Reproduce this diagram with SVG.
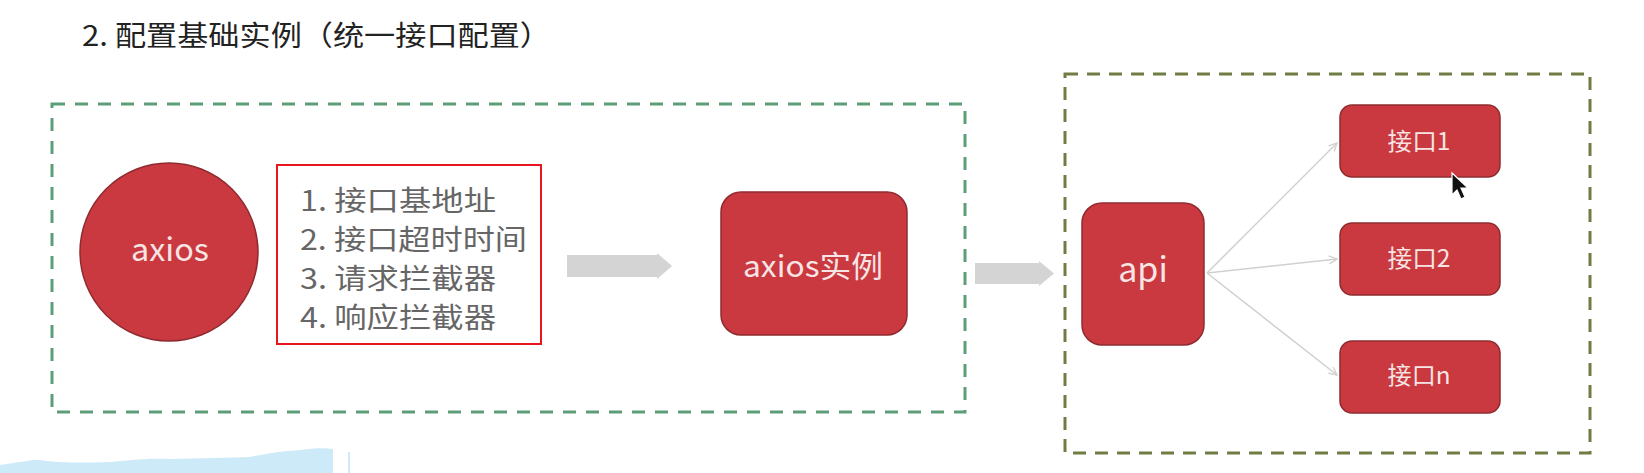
<svg xmlns="http://www.w3.org/2000/svg" width="1644" height="473" viewBox="0 0 1644 473">
<defs>
<style>
.t{font-family:"Noto Sans CJK SC","Noto Sans",sans-serif}
.node{fill:#c9393f;stroke:#8f2b30;stroke-width:1.5}
.nt{fill:#f7e4e4;text-anchor:middle}
.list{fill:#666;font-size:28px}
.fat{fill:#d4d4d4}
.thin{stroke:#d0d0d0;stroke-width:1.5;fill:none;marker-end:url(#chev)}
</style>
<marker id="chev" viewBox="0 0 10 10" refX="9" refY="5" markerWidth="10" markerHeight="10" markerUnits="userSpaceOnUse" orient="auto">
<path d="M1,1 L9,5 L1,9" fill="none" stroke="#d0d0d0" stroke-width="1.3"/>
</marker>
</defs>
<rect width="1644" height="473" fill="#ffffff"/>
<text class="t" x="82" y="46" font-size="28" fill="#222" textLength="469" lengthAdjust="spacingAndGlyphs">2. 配置基础实例（统一接口配置）</text>
<rect id="group-left" x="52" y="104" width="913" height="308" fill="none" stroke="#5b9e78" stroke-width="3" stroke-dasharray="13 10"/>
<rect id="group-right" x="1065" y="74" width="525" height="379" fill="none" stroke="#6f7d45" stroke-width="3" stroke-dasharray="13 9"/>
<g id="connectors">
<path class="fat" d="M567,255 H657 V253 L672,266 L657,279 V277 H567 Z"/>
<path class="fat" d="M975,263 H1039 V261 L1054,273.5 L1039,286 V284 H975 Z"/>
<path class="thin" d="M1207,273 L1337,143"/>
<path class="thin" d="M1207,273 L1337,259"/>
<path class="thin" d="M1207,273 L1337,375"/>
</g>
<g id="node-axios">
<circle class="node" cx="169" cy="252" r="89"/>
<text class="t nt" x="170" y="261" font-size="32" textLength="78" lengthAdjust="spacingAndGlyphs">axios</text>
</g>
<g id="node-config">
<rect x="277" y="165" width="264" height="179" fill="#fff" stroke="#e8141e" stroke-width="2"/>
<text class="t list" x="300" y="211" textLength="196" lengthAdjust="spacingAndGlyphs">1. 接口基地址</text>
<text class="t list" x="300" y="250" textLength="227" lengthAdjust="spacingAndGlyphs">2. 接口超时时间</text>
<text class="t list" x="300" y="289" textLength="196" lengthAdjust="spacingAndGlyphs">3. 请求拦截器</text>
<text class="t list" x="300" y="328" textLength="196" lengthAdjust="spacingAndGlyphs">4. 响应拦截器</text>
</g>
<g id="node-instance">
<rect class="node" x="721" y="192" width="186" height="143" rx="20"/>
<text class="t nt" x="813" y="277" font-size="30" textLength="140" lengthAdjust="spacingAndGlyphs">axios实例</text>
</g>
<g id="node-api">
<rect class="node" x="1082" y="203" width="122" height="142" rx="20"/>
<text class="t nt" x="1143" y="282" font-size="34">api</text>
</g>
<g id="node-api1">
<rect class="node" x="1340" y="105" width="160" height="72" rx="12"/>
<text class="t nt" x="1419" y="150" font-size="24" textLength="63" lengthAdjust="spacingAndGlyphs">接口1</text>
</g>
<g id="node-api2">
<rect class="node" x="1340" y="223" width="160" height="72" rx="12"/>
<text class="t nt" x="1419" y="267" font-size="24" textLength="63" lengthAdjust="spacingAndGlyphs">接口2</text>
</g>
<g id="node-apin">
<rect class="node" x="1340" y="341" width="160" height="72" rx="12"/>
<text class="t nt" x="1419" y="384" font-size="24" textLength="63" lengthAdjust="spacingAndGlyphs">接口n</text>
</g>
<path d="M1452,173 V195 L1457,190 L1461,199 L1465,197 L1461,188 L1468,188 Z" fill="#111" stroke="#fff" stroke-width="1.2"/>
<path d="M0,465 C20,462 30,460 40,460 C60,463 80,463 110,462 C130,461 140,458 170,459 C200,458 230,458 250,457 C265,454 275,452 300,450 C315,448 325,448 333,449 V473 H0 Z" fill="#cdeaf8"/>
<rect x="348" y="452" width="2" height="21" fill="#cdeaf8"/>
</svg>
